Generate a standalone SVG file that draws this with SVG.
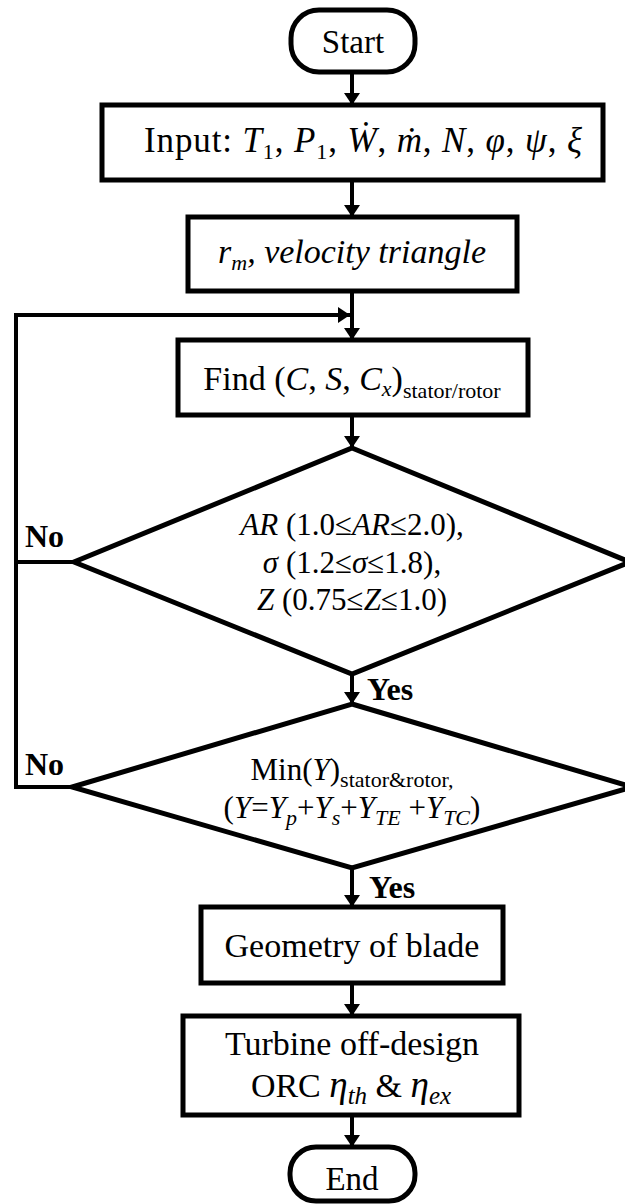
<svg xmlns="http://www.w3.org/2000/svg" width="625" height="1204" viewBox="0 0 625 1204">
<style>
.s{fill:#fff;stroke:#000;stroke-width:5}
.c{fill:none;stroke:#000;stroke-width:4}
.t{font-family:"Liberation Serif","DejaVu Serif",serif;font-size:33px;fill:#000;text-anchor:middle}
.d{font-size:31px}
.m{font-size:34px}
.in{font-size:35px}
.i{font-style:italic}
.sub{font-size:22px}
.lbl{font-family:"Liberation Serif","DejaVu Serif",serif;font-size:32px;font-weight:bold;fill:#000}
</style>
<defs>
<marker id="ah" viewBox="0 0 12 16" refX="12" refY="8" markerWidth="12" markerHeight="16" markerUnits="userSpaceOnUse" orient="auto">
<path d="M0,0 L12,8 L0,16 z" fill="#000"/>
</marker>
</defs>
<rect width="625" height="1204" fill="#fff"/>
<g id="connectors">
<line class="c" x1="352" y1="72" x2="352" y2="105" marker-end="url(#ah)"/>
<line class="c" x1="352" y1="180" x2="352" y2="217" marker-end="url(#ah)"/>
<line class="c" x1="352" y1="291" x2="352" y2="340" marker-end="url(#ah)"/>
<path class="c" d="M74,787 H16 V315 H350" marker-end="url(#ah)"/>
<path class="c" d="M74,562 H16"/>
<line class="c" x1="352" y1="415" x2="352" y2="448" marker-end="url(#ah)"/>
<line class="c" x1="352" y1="672" x2="352" y2="704" marker-end="url(#ah)"/>
<line class="c" x1="352" y1="868" x2="352" y2="907" marker-end="url(#ah)"/>
<line class="c" x1="352" y1="983" x2="352" y2="1016" marker-end="url(#ah)"/>
<line class="c" x1="352" y1="1115" x2="352" y2="1147" marker-end="url(#ah)"/>
<text class="lbl" x="25" y="547">No</text>
<text class="lbl" x="25" y="775">No</text>
<text class="lbl" x="367" y="700">Yes</text>
<text class="lbl" x="369" y="898">Yes</text>
</g>
<g id="start">
<rect class="s" x="291" y="10" width="124" height="62" rx="28"/>
<text class="t" x="353" y="53">Start</text>
</g>
<g id="input">
<rect class="s" x="102" y="105" width="501" height="75"/>
<text class="t in" x="363" y="152" textLength="438" lengthAdjust="spacing">Input: <tspan class="i">T</tspan><tspan class="sub" dy="7">1</tspan><tspan dy="-7">, </tspan><tspan class="i">P</tspan><tspan class="sub" dy="7">1</tspan><tspan dy="-7">, </tspan><tspan class="i">Ẇ</tspan>, <tspan class="i">ṁ</tspan>, <tspan class="i">N</tspan>, <tspan class="i">φ</tspan>, <tspan class="i">ψ</tspan>, <tspan class="i">ξ</tspan></text>
</g>
<g id="velocity">
<rect class="s" x="188" y="217" width="329" height="74"/>
<text class="t m i" x="352" y="263">r<tspan class="sub" dy="7">m</tspan><tspan dy="-7">, velocity triangle</tspan></text>
</g>
<g id="find">
<rect class="s" x="178" y="340" width="350" height="75"/>
<text class="t m" x="352" y="390">Find (<tspan class="i">C</tspan>, <tspan class="i">S</tspan>, <tspan class="i">C</tspan><tspan class="i sub" dy="6">x</tspan><tspan dy="-6">)</tspan><tspan class="sub" dy="8">stator/rotor</tspan></text>
</g>
<g id="check1">
<polygon class="s" points="352,448 630,562 352,674 74,562"/>
<text class="t d" x="352" y="535"><tspan class="i">AR</tspan> (1.0≤<tspan class="i">AR</tspan>≤2.0),</text>
<text class="t d" x="352" y="573"><tspan class="i">σ</tspan> (1.2≤<tspan class="i">σ</tspan>≤1.8),</text>
<text class="t d" x="352" y="610"><tspan class="i">Z</tspan> (0.75≤<tspan class="i">Z</tspan>≤1.0)</text>
</g>
<g id="check2">
<polygon class="s" points="352,704 632,787 352,868 72,787"/>
<text class="t d" x="352" y="780">Min(<tspan class="i">Y</tspan>)<tspan class="sub" dy="7">stator&amp;rotor,</tspan></text>
<text class="t d" x="352" y="818">(<tspan class="i">Y</tspan>=<tspan class="i">Y</tspan><tspan class="i sub" dy="7">p</tspan><tspan dy="-7">+</tspan><tspan class="i">Y</tspan><tspan class="i sub" dy="7">s</tspan><tspan dy="-7">+</tspan><tspan class="i">Y</tspan><tspan class="i sub" dy="7">TE</tspan><tspan dy="-7"> +</tspan><tspan class="i">Y</tspan><tspan class="i sub" dy="7">TC</tspan><tspan dy="-7">)</tspan></text>
</g>
<g id="geometry">
<rect class="s" x="201" y="907" width="302" height="76"/>
<text class="t m" x="352" y="957">Geometry of blade</text>
</g>
<g id="turbine">
<rect class="s" x="183" y="1016" width="336" height="99"/>
<text class="t m" x="352" y="1055">Turbine off-design</text>
<text class="t m" x="351" y="1097">ORC <tspan class="i" font-size="37">η</tspan><tspan class="i" font-size="25" dy="7">th</tspan><tspan dy="-7"> &amp; </tspan><tspan class="i" font-size="37">η</tspan><tspan class="i" font-size="25" dy="7">ex</tspan></text>
</g>
<g id="end">
<rect class="s" x="290" y="1147" width="125" height="54" rx="26"/>
<text class="t" x="352" y="1190">End</text>
</g>
</svg>
